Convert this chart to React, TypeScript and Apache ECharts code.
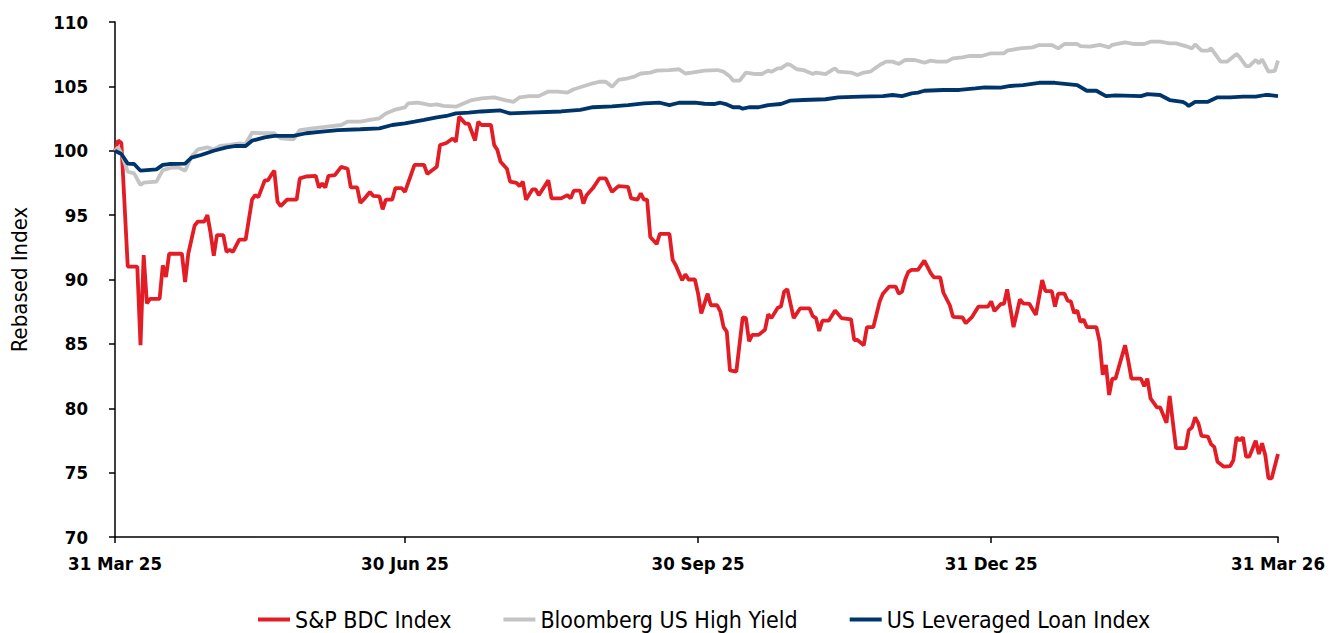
import React, { useEffect, useRef } from "react";
import * as echarts from "echarts";

// Day offsets from 31 Mar 2025, rebased index values
const startDate = "2025-03-31";

const bdcPoints: [number, number][] = [
  [0, 100], [1, 100.8], [2, 100.6], [4, 91.0], [7, 91.0], [8, 84.9], [9, 91.9], [10, 88.15], [11, 88.5], [14, 88.5],
  [15, 91.1], [16, 90.2], [17, 92.0], [21, 92.0], [22, 89.8], [23, 92.0], [25, 94.2], [26, 94.5], [28, 94.5], [29, 95.0],
  [30, 93.6], [31, 91.85], [32, 93.45], [34, 93.45], [35, 92.15], [36, 92.3], [37, 92.15], [39, 93.1], [41, 93.1], [43, 96.2],
  [44, 96.55], [45, 96.4], [47, 97.7], [48, 97.7], [49, 98.1], [50, 98.45], [51, 96.05], [52, 95.7], [54, 96.2], [57, 96.2],
  [58, 97.85], [60, 98.0], [63, 98.05], [64, 97.15], [65, 97.45], [66, 97.15], [67, 98.05], [69, 98.1], [71, 98.75], [73, 98.6],
  [74, 97.15], [76, 97.15], [77, 95.95], [78, 96.2], [80, 96.8], [81, 96.5], [83, 96.45], [84, 95.45], [85, 96.2], [87, 96.2],
  [88, 97.1], [90, 97.1], [91, 96.8], [94, 98.9], [97, 98.9], [98, 98.2], [101, 98.75], [102, 100.45], [104, 100.6], [106, 100.95],
  [107, 100.7], [108, 102.65], [110, 102.1], [111, 102.1], [113, 100.8], [114, 102.25], [115, 102.0], [118, 102.0], [119, 100.45], [120, 100.05],
  [121, 99.15], [123, 98.6], [124, 97.6], [126, 97.5], [127, 97.25], [128, 97.6], [129, 96.2], [131, 97.0], [132, 97.0], [133, 96.55],
  [136, 97.7], [137, 96.3], [140, 96.3], [142, 96.55], [143, 96.3], [144, 96.9], [146, 96.9], [147, 95.9], [148, 96.55], [150, 97.1],
  [152, 97.85], [154, 97.85], [156, 96.8], [158, 97.25], [161, 97.2], [162, 96.3], [164, 96.2], [165, 96.7], [166, 96.2], [167, 96.2],
  [168, 93.3], [170, 92.75], [171, 93.55], [174, 93.55], [175, 91.55], [176, 91.1], [178, 89.95], [179, 90.4], [180, 90.0], [182, 90.0],
  [183, 88.9], [184, 87.37], [186, 88.9], [187, 88.0], [189, 88.0], [190, 87.5], [191, 86.3], [192, 85.95], [193, 82.95], [195, 82.85],
  [197, 87.06], [198, 87.0], [199, 85.2], [200, 85.7], [202, 85.7], [204, 86.1], [205, 87.3], [206, 87.0], [208, 87.8], [209, 87.9],
  [210, 89.05], [211, 89.25], [213, 87.0], [215, 87.75], [218, 87.75], [219, 87.15], [220, 87.0], [221, 86.0], [222, 86.8], [224, 86.8],
  [226, 87.6], [228, 87.0], [231, 86.9], [232, 85.3], [233, 85.3], [235, 84.9], [236, 86.3], [238, 86.3], [240, 88.3], [241, 88.9],
  [243, 89.45], [245, 89.45], [246, 88.9], [247, 89.05], [248, 90.0], [249, 90.6], [250, 90.75], [252, 90.75], [254, 91.46], [256, 90.5],
  [257, 90.17], [259, 90.17], [260, 88.97], [262, 88.0], [263, 87.1], [266, 87.05], [267, 86.6], [269, 87.1], [271, 87.9], [274, 87.9],
  [275, 88.3], [276, 87.55], [278, 88.1], [279, 88.1], [280, 89.24], [282, 86.3], [284, 88.45], [285, 88.15], [287, 88.1], [289, 87.25],
  [291, 89.96], [292, 89.1], [294, 89.1], [295, 87.9], [296, 88.9], [298, 88.9], [299, 88.35], [300, 88.3], [301, 87.4], [302, 87.6],
  [303, 86.7], [304, 86.9], [305, 86.3], [308, 86.3], [309, 85.2], [310, 82.6], [311, 83.36], [312, 81.03], [313, 82.3], [314, 82.3],
  [317, 84.9], [318, 83.7], [319, 82.3], [322, 82.3], [323, 81.7], [324, 82.3], [325, 80.77], [327, 80.07], [328, 80.07], [330, 78.88],
  [331, 80.95], [333, 76.9], [336, 76.9], [337, 78.3], [338, 78.5], [339, 79.3], [340, 78.83], [341, 77.85], [343, 77.8], [344, 77.2],
  [345, 77.0], [346, 75.85], [348, 75.46], [350, 75.5], [351, 75.98], [352, 77.74], [353, 77.5], [354, 77.74], [355, 76.24], [356, 76.24],
  [358, 77.48], [359, 76.45], [360, 77.28], [361, 76.37], [362, 74.56], [363, 74.56], [365, 76.45],
];

const hyPoints: [number, number][] = [
  [0, 100], [1, 100.26], [2, 99.8], [4, 98.37], [6, 98.24], [8, 97.34], [9, 97.52], [13, 97.6], [15, 98.5], [18, 98.7],
  [20, 98.7], [22, 98.45], [24, 99.54], [26, 100.1], [29, 100.26], [31, 100.1], [33, 100.37], [36, 100.45], [39, 100.58], [41, 100.52],
  [43, 101.4], [46, 101.36], [50, 101.36], [52, 100.96], [56, 100.88], [58, 101.6], [62, 101.74], [66, 101.86], [71, 102.0], [73, 102.26],
  [77, 102.26], [80, 102.4], [83, 102.52], [85, 102.9], [88, 103.2], [91, 103.37], [92, 103.68], [95, 103.73], [99, 103.55], [101, 103.6],
  [103, 103.48], [107, 103.42], [109, 103.63], [112, 103.94], [115, 104.07], [119, 104.15], [123, 103.9], [125, 103.8], [127, 104.15], [130, 104.24],
  [133, 104.24], [136, 104.6], [139, 104.6], [142, 104.52], [144, 104.78], [146, 104.93], [150, 105.24], [152, 105.36], [154, 105.36], [156, 104.97],
  [158, 105.5], [161, 105.63], [163, 105.76], [165, 106.0], [168, 106.07], [170, 106.22], [174, 106.27], [177, 106.33], [179, 106.0], [181, 106.07],
  [185, 106.22], [189, 106.27], [191, 106.14], [193, 105.76], [194, 105.44], [196, 105.44], [198, 106.07], [201, 105.96], [203, 105.96], [205, 106.22],
  [206, 106.14], [208, 106.4], [209, 106.4], [211, 106.74], [212, 106.66], [214, 106.33], [216, 106.27], [219, 105.96], [220, 106.07], [223, 105.96],
  [225, 106.27], [226, 106.4], [227, 106.14], [231, 106.07], [233, 105.88], [235, 106.07], [237, 106.14], [240, 106.66], [242, 106.92], [244, 106.92],
  [246, 106.74], [248, 107.05], [251, 107.05], [254, 106.84], [256, 107.0], [258, 106.92], [261, 106.92], [263, 107.18], [266, 107.26], [268, 107.36],
  [272, 107.36], [275, 107.57], [279, 107.57], [280, 107.77], [284, 107.95], [288, 108.03], [290, 108.21], [294, 108.21], [296, 107.95], [298, 108.29],
  [302, 108.29], [303, 108.13], [306, 108.08], [309, 108.23], [312, 108.03], [313, 108.23], [317, 108.41], [320, 108.29], [323, 108.29], [325, 108.47],
  [328, 108.47], [331, 108.34], [333, 108.34], [336, 108.13], [338, 107.95], [339, 108.26], [341, 107.77], [343, 107.77], [344, 107.95], [347, 106.92],
  [349, 106.92], [352, 107.52], [353, 107.26], [355, 106.58], [356, 106.58], [358, 107.05], [359, 106.79], [360, 107.1], [362, 106.14], [364, 106.2],
  [365, 107.0],
];

const llPoints: [number, number][] = [
  [0, 100], [2, 99.75], [4, 99.0], [6, 98.97], [8, 98.45], [10, 98.5], [13, 98.55], [15, 98.9], [17, 98.97], [22, 99.0],
  [24, 99.46], [27, 99.67], [31, 100.0], [35, 100.26], [38, 100.37], [41, 100.37], [43, 100.78], [47, 101.04], [50, 101.15], [56, 101.15],
  [60, 101.36], [65, 101.48], [70, 101.6], [77, 101.67], [83, 101.74], [87, 102.0], [91, 102.13], [94, 102.26], [97, 102.4], [101, 102.6],
  [104, 102.7], [107, 102.9], [111, 102.96], [115, 103.05], [121, 103.13], [124, 102.9], [130, 102.96], [140, 103.05], [146, 103.18], [150, 103.38],
  [156, 103.44], [161, 103.55], [166, 103.68], [171, 103.73], [174, 103.55], [177, 103.73], [182, 103.73], [185, 103.65], [188, 103.63], [190, 103.73],
  [192, 103.6], [194, 103.38], [196, 103.38], [197, 103.27], [199, 103.38], [202, 103.38], [205, 103.55], [209, 103.63], [212, 103.9], [216, 103.94],
  [223, 104.0], [227, 104.15], [234, 104.2], [241, 104.24], [244, 104.33], [247, 104.24], [250, 104.46], [252, 104.52], [254, 104.66], [260, 104.72],
  [265, 104.72], [270, 104.84], [273, 104.92], [278, 104.9], [281, 105.03], [285, 105.1], [290, 105.28], [295, 105.28], [302, 105.1], [305, 104.66],
  [308, 104.66], [311, 104.24], [314, 104.3], [322, 104.24], [324, 104.4], [328, 104.33], [331, 103.94], [335, 103.8], [336, 103.68], [337, 103.48],
  [339, 103.8], [343, 103.8], [346, 104.15], [350, 104.15], [354, 104.2], [358, 104.2], [361, 104.33], [362, 104.33], [365, 104.24],
];

const tickDates = ["2025-03-31", "2025-06-30", "2025-09-30", "2025-12-31", "2026-03-31"];
const tickLabels = ["31 Mar 25", "30 Jun 25", "30 Sep 25", "31 Dec 25", "31 Mar 26"];

const seriesNames = ["S&P BDC Index", "Bloomberg US High Yield", "US Leveraged Loan Index"];
const seriesColors = ["#E31D25", "#C4C4C4", "#00356B"];

const DAY = 86400000;
const toTs = (s: string) => {
  const [y, m, d] = s.split("-").map(Number);
  return Date.UTC(y, m - 1, d);
};

const FONT = "'DejaVu Sans Condensed', 'DejaVu Sans', sans-serif";

export default function App() {
  const ref = useRef<HTMLDivElement>(null);
  useEffect(() => {
    if (!ref.current) return;
    const chart = echarts.init(ref.current, undefined, { renderer: "svg" });
    const base = toTs(startDate);
    const tickDays = tickDates.map((s) => Math.round((toTs(s) - base) / DAY));
    const allSeries = [bdcPoints, hyPoints, llPoints];
    chart.setOption({
      animation: false,
      grid: { left: 107, right: 54, top: 22, bottom: 96, containLabel: false },
      legend: {
        top: 603,
        left: 253,
        icon: "rect",
        itemWidth: 32,
        itemHeight: 4,
        itemGap: 52,
        textStyle: { fontFamily: FONT, fontSize: 23, color: "#000", fontWeight: 500 },
        data: seriesNames,
      },
      xAxis: {
        type: "value",
        min: tickDays[0],
        max: tickDays[tickDays.length - 1],
        splitLine: { show: false },
        axisLine: { show: true, lineStyle: { color: "#000", width: 1.5 } },
        axisTick: { show: true, customValues: tickDays, length: 6, lineStyle: { color: "#000", width: 1.5 } },
        axisLabel: {
          customValues: tickDays,
          margin: 17,
          fontFamily: FONT,
          fontSize: 18.5,
          fontWeight: "bold",
          color: "#000",
          formatter: (v: number) => {
            const i = tickDays.indexOf(Math.round(v));
            return i >= 0 ? tickLabels[i] : "";
          },
        },
      },
      yAxis: {
        type: "value",
        min: 70,
        max: 110,
        interval: 5,
        name: "Rebased Index",
        nameLocation: "middle",
        nameGap: 85,
        nameTextStyle: { fontFamily: FONT, fontSize: 22, color: "#000" },
        splitLine: { show: false },
        axisLine: { show: true, lineStyle: { color: "#000", width: 1.5 } },
        axisTick: { show: true, length: 6, lineStyle: { color: "#000", width: 1.5 } },
        axisLabel: { margin: 27, fontFamily: FONT, fontSize: 18.5, fontWeight: "bold", color: "#000" },
      },
      series: allSeries.map((pts, i) => ({
        name: seriesNames[i],
        type: "line",
        data: pts,
        showSymbol: false,
        symbol: "none",
        color: seriesColors[i],
        lineStyle: { color: seriesColors[i], width: 3.8 },
      })),
    });
    return () => chart.dispose();
  }, []);
  return <div ref={ref} style={{ position: "absolute", left: 0, top: 0, width: 1332, height: 633 }} />;
}
